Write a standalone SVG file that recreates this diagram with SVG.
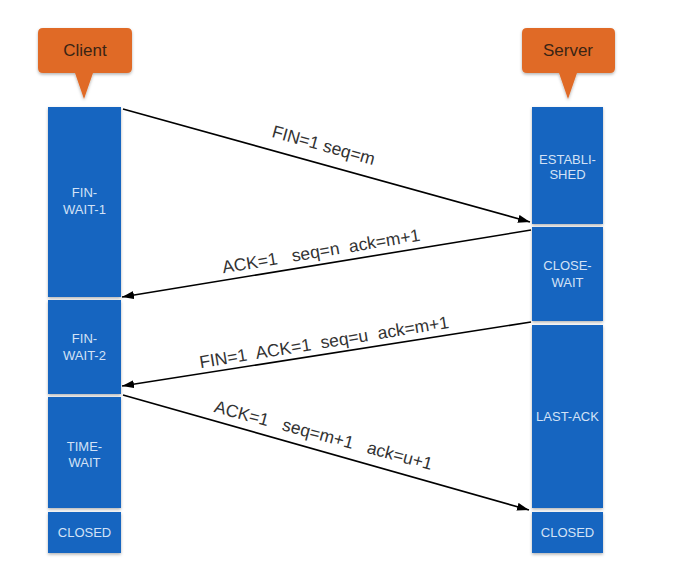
<svg xmlns="http://www.w3.org/2000/svg" width="673" height="584" viewBox="0 0 673 584">
<defs>
<filter id="sh" x="-20%" y="-20%" width="140%" height="140%">
<feDropShadow dx="0" dy="1.5" stdDeviation="1.5" flood-color="#000" flood-opacity="0.3"/>
</filter>
<marker id="ah" viewBox="0 0 12 8" refX="12" refY="4" markerWidth="12" markerHeight="8" markerUnits="userSpaceOnUse" orient="auto">
<path d="M0,0 L12,4 L0,8 z" fill="#000"/>
</marker>
<style>
.bub{fill:#e06a27;filter:url(#sh)}
.bt{font-family:"Liberation Sans",Arial,sans-serif;font-size:17px;fill:#3a2414;text-anchor:middle}
.st{fill:#1565c0;filter:url(#sh)}
.sl{font-family:"Liberation Sans",Arial,sans-serif;font-size:13px;fill:#d3e2f6;text-anchor:middle}
.ln{stroke:#000;stroke-width:1.6;fill:none;marker-end:url(#ah)}
.lb{font-family:"Liberation Sans",Arial,sans-serif;font-size:17.5px;fill:#333;text-anchor:middle}
</style>
</defs>
<rect width="673" height="584" fill="#fff"/>
<g id="client-bubble">
<path class="bub" d="M43,28 H127 Q132,28 132,33 V68 Q132,73 127,73 H93 L84,99 L75,73 H43 Q38,73 38,68 V33 Q38,28 43,28 Z"/>
<text class="bt" x="85" y="56">Client</text>
</g>
<g id="server-bubble">
<path class="bub" d="M527,28 H610 Q615,28 615,33 V68 Q615,73 610,73 H577 L568,99 L559,73 H527 Q522,73 522,68 V33 Q522,28 527,28 Z"/>
<text class="bt" x="568" y="56">Server</text>
</g>
<g id="fin-wait-1">
<rect class="st" x="48" y="107" width="73" height="190"/>
<text class="sl" x="84.5" y="197">FIN-</text>
<text class="sl" x="84.5" y="214">WAIT-1</text>
</g>
<g id="fin-wait-2">
<rect class="st" x="48" y="300" width="73" height="94"/>
<text class="sl" x="84.5" y="343">FIN-</text>
<text class="sl" x="84.5" y="360">WAIT-2</text>
</g>
<g id="time-wait">
<rect class="st" x="48" y="397" width="73" height="111"/>
<text class="sl" x="84.5" y="451">TIME-</text>
<text class="sl" x="84.5" y="467">WAIT</text>
</g>
<g id="client-closed">
<rect class="st" x="48" y="512" width="73" height="41"/>
<text class="sl" x="84.5" y="537">CLOSED</text>
</g>
<g id="established">
<rect class="st" x="532" y="107" width="71" height="117"/>
<text class="sl" x="567.5" y="164">ESTABLI-</text>
<text class="sl" x="567.5" y="179">SHED</text>
</g>
<g id="close-wait">
<rect class="st" x="532" y="227" width="71" height="94"/>
<text class="sl" x="567.5" y="270">CLOSE-</text>
<text class="sl" x="567.5" y="287">WAIT</text>
</g>
<g id="last-ack">
<rect class="st" x="532" y="325" width="71" height="183"/>
<text class="sl" x="567.5" y="421">LAST-ACK</text>
</g>
<g id="server-closed">
<rect class="st" x="532" y="512" width="71" height="41"/>
<text class="sl" x="567.5" y="537">CLOSED</text>
</g>
<g id="connectors">
<line class="ln" x1="123" y1="109" x2="530" y2="222"/>
<line class="ln" x1="531" y1="230" x2="122" y2="297"/>
<line class="ln" x1="531" y1="322" x2="122" y2="386"/>
<line class="ln" x1="123" y1="395" x2="529" y2="510"/>
<text class="lb" transform="translate(322,151) rotate(15.5)" xml:space="preserve">FIN=1 seq=m</text>
<text class="lb" transform="translate(322,257) rotate(-9.4)" xml:space="preserve">ACK=1   seq=n  ack=m+1</text>
<text class="lb" transform="translate(325,348) rotate(-9.2)" xml:space="preserve">FIN=1  ACK=1  seq=u  ack=m+1</text>
<text class="lb" transform="translate(322,441) rotate(15)" xml:space="preserve">ACK=1   seq=m+1   ack=u+1</text>
</g>
</svg>
